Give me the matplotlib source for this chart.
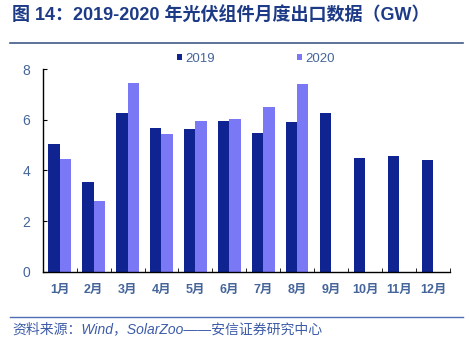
import matplotlib
matplotlib.use("Agg")
import matplotlib.pyplot as plt
import numpy as np

months = ["1月", "2月", "3月", "4月", "5月", "6月", "7月", "8月", "9月", "10月", "11月", "12月"]
v2019 = [5.04, 3.56, 6.27, 5.69, 5.65, 5.96, 5.49, 5.90, 6.27, 4.51, 4.56, 4.40]
v2020 = [4.45, 2.78, 7.46, 5.43, 5.96, 6.05, 6.52, 7.42]
yticks = [0, 2, 4, 6, 8]

plt.rcParams['font.family'] = ['Liberation Sans', 'Noto Sans CJK SC', 'DejaVu Sans']

c2019 = "#0F2490"
c2020 = "#7B78F6"
tick_col = "#45659A"
title_col = "#1C3A86"

fig = plt.figure(figsize=(4.69, 3.43), dpi=100)
ax = fig.add_axes([0.091, 0.2079, 0.8685, 0.5901])

x = np.arange(len(months))
w = 0.33
ax.bar(x[:len(v2019)] - w / 2, v2019, width=w, color=c2019, label="2019")
ax.bar(x[:len(v2020)] + w / 2, v2020, width=w, color=c2020, label="2020")

ax.set_xlim(-0.5, len(months) - 0.5)
ax.set_ylim(0, 8)
ax.set_yticks(yticks)
ax.set_yticklabels([str(t) for t in yticks])
ax.set_xticks(x)
ax.set_xticklabels(months)
ax.set_xticks(np.arange(-0.5, len(months)), minor=True)
ax.tick_params(axis='x', which='major', length=0, pad=9, labelsize=9, labelcolor=tick_col)
ax.tick_params(axis='x', which='minor', direction='in', length=3, color='black')
ax.tick_params(axis='y', direction='in', length=3, pad=9, labelsize=10, labelcolor=tick_col)
for lab in ax.get_xticklabels():
    lab.set_fontweight('bold')

for s in ['top', 'right']:
    ax.spines[s].set_visible(False)
for s in ['left', 'bottom']:
    ax.spines[s].set_color('black')
    ax.spines[s].set_linewidth(1.0)

leg = ax.legend(loc='upper left', bbox_to_anchor=(0.30, 1.14), ncol=2, frameon=False,
                handlelength=0.4, handleheight=0.4, handletextpad=0.25,
                columnspacing=6.2, fontsize=9.5)
for t in leg.get_texts():
    t.set_color(tick_col)

fig.text(0.026, 0.955, "图 14：2019-2020 年光伏组件月度出口数据（GW）", fontsize=13,
         fontweight='bold', color=title_col, va='center', ha='left')
fig.add_artist(plt.Line2D([0.021, 0.987], [0.875, 0.875], color="#3F5A86", lw=1.2,
                          transform=fig.transFigure))
fig.add_artist(plt.Line2D([0.021, 0.987], [0.077, 0.077], color="#4F6FB5", lw=1.0,
                          transform=fig.transFigure))
fig.text(0.026, 0.040, "资料来源：Wind，SolarZoo——安信证券研究中心", fontsize=10,
         style='italic', color="#3D5CA8", va='center', ha='left')

fig.savefig("out.png", dpi=100)
